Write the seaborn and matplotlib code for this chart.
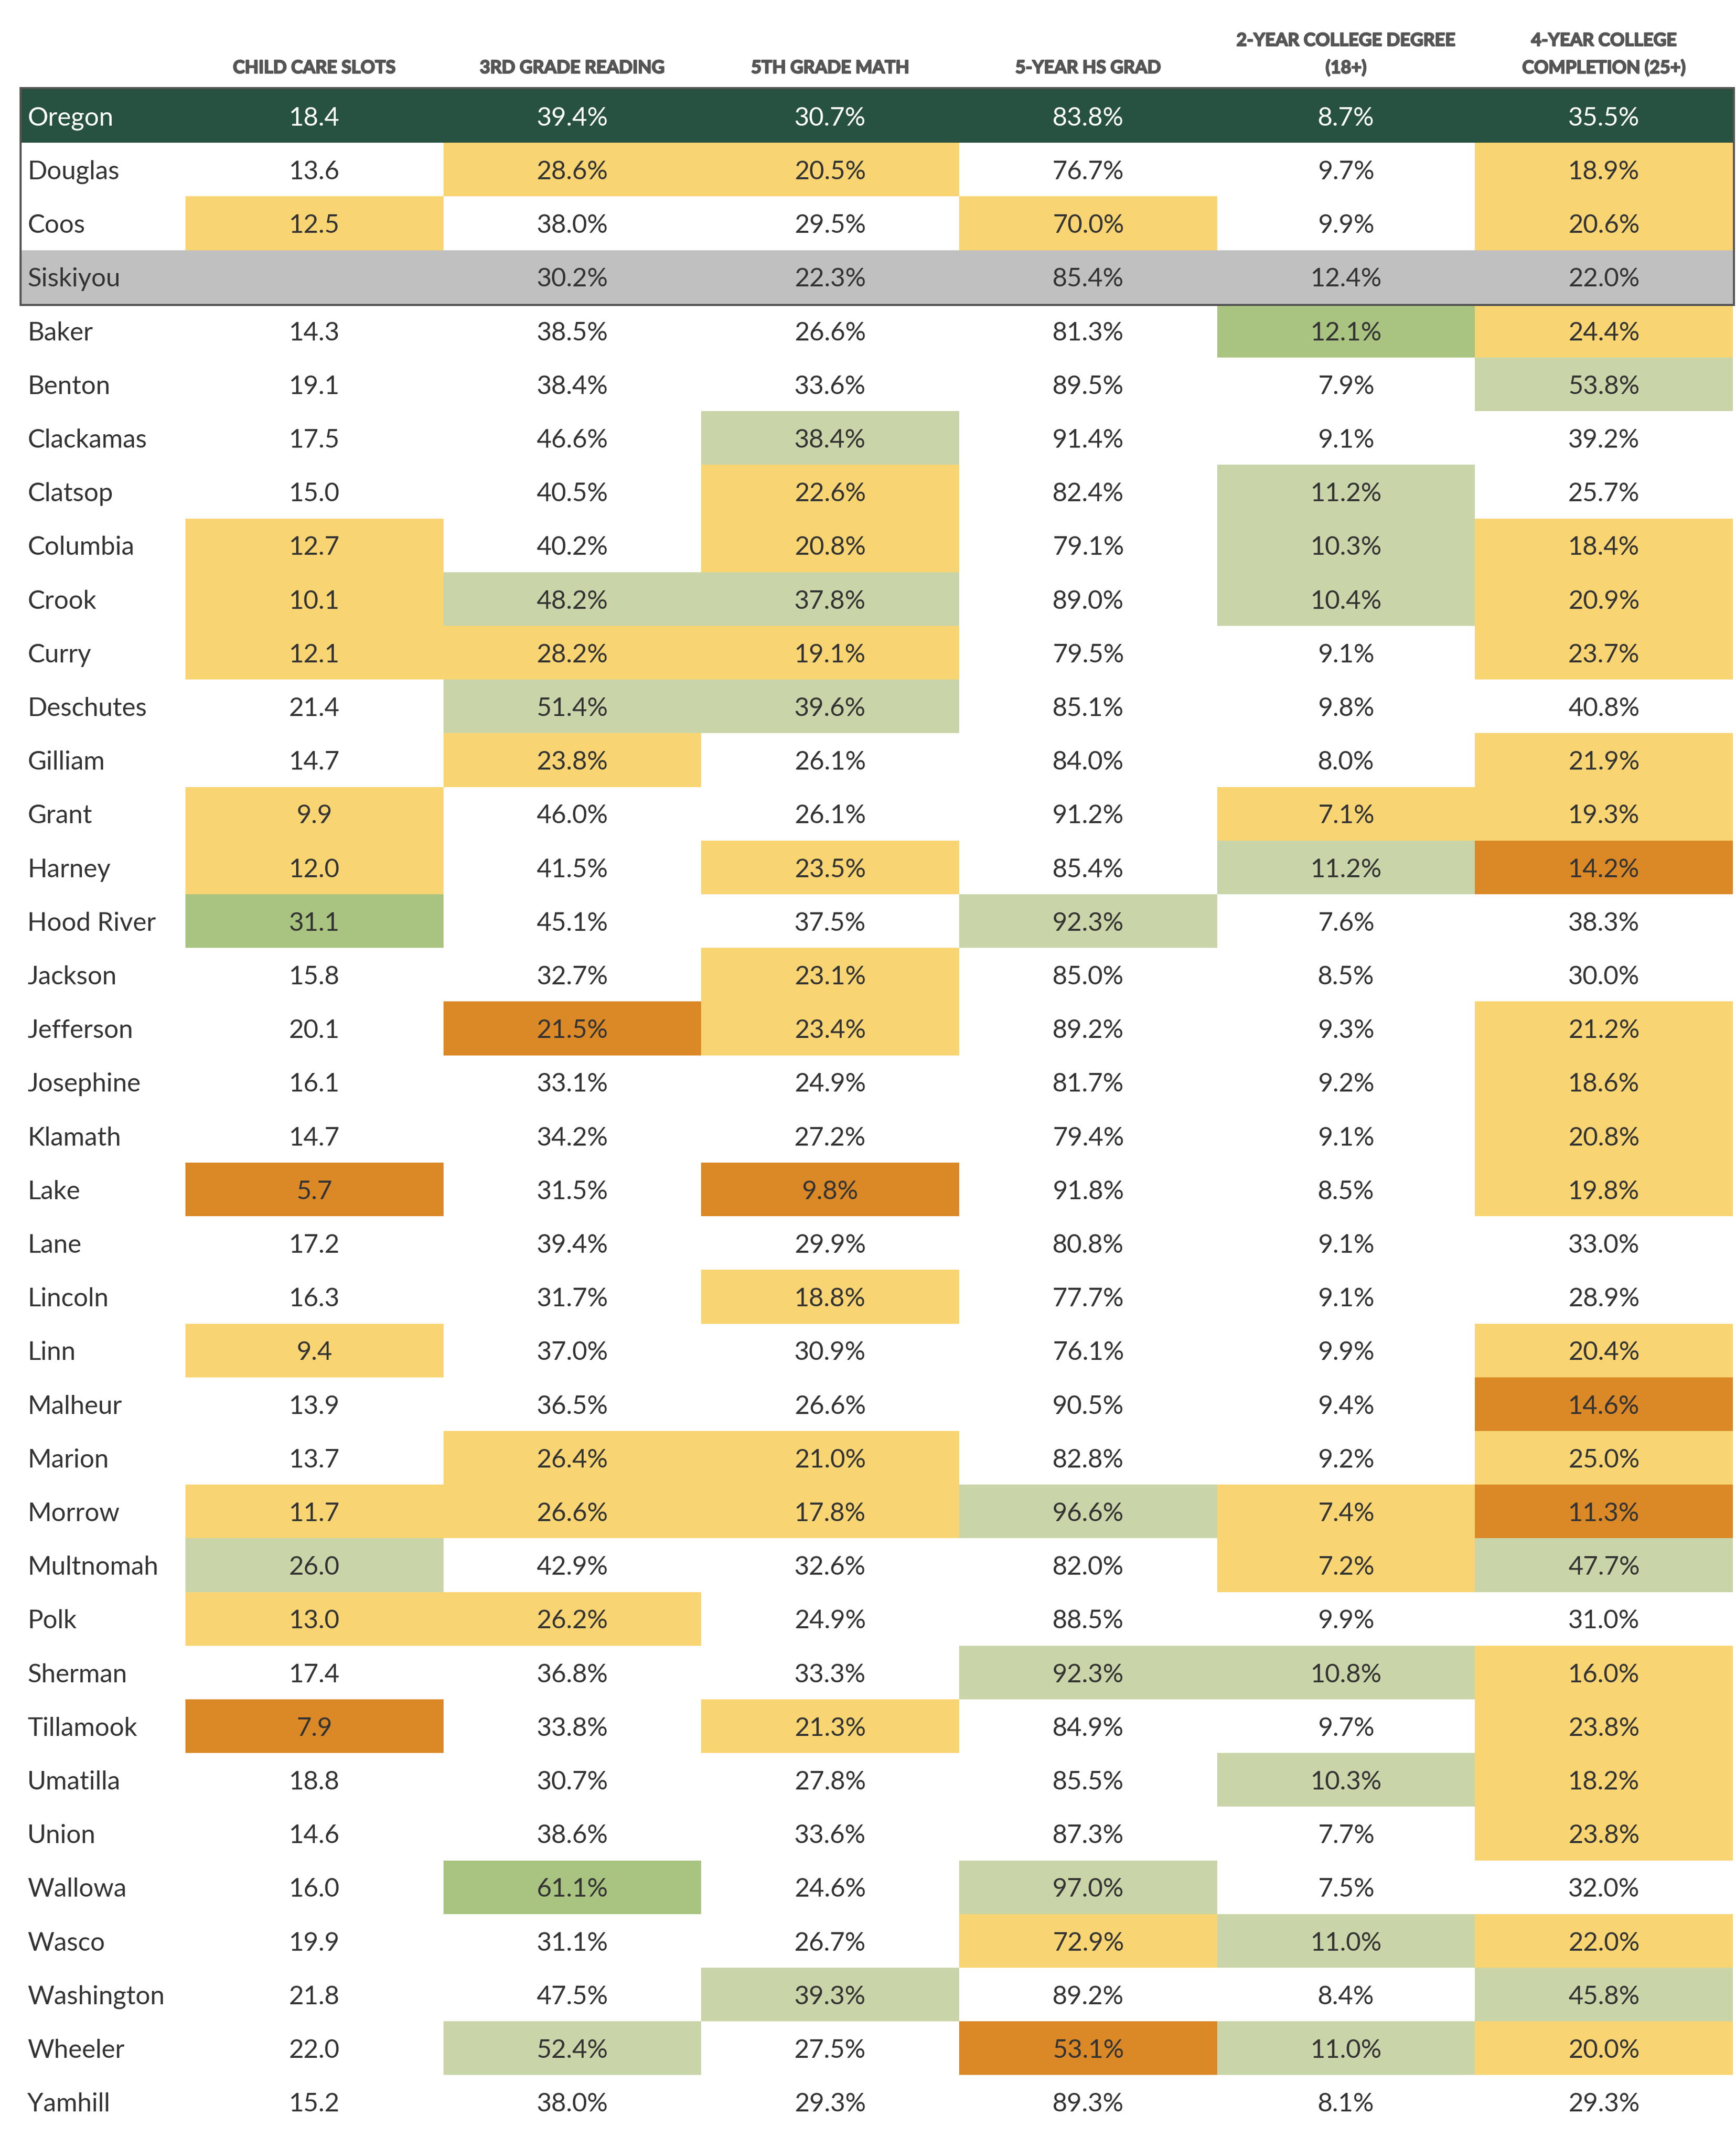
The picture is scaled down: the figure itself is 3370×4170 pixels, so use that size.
import matplotlib
matplotlib.use('Agg')
import matplotlib.pyplot as plt
import matplotlib.patheffects as pe
from matplotlib.colors import ListedColormap
from matplotlib.patches import Rectangle
import seaborn as sns
import numpy as np
import pandas as pd

# ---- data ----
counties = ["Oregon", "Douglas", "Coos", "Siskiyou", "Baker", "Benton", "Clackamas",
            "Clatsop", "Columbia", "Crook", "Curry", "Deschutes", "Gilliam", "Grant",
            "Harney", "Hood River", "Jackson", "Jefferson", "Josephine", "Klamath",
            "Lake", "Lane", "Lincoln", "Linn", "Malheur", "Marion", "Morrow",
            "Multnomah", "Polk", "Sherman", "Tillamook", "Umatilla", "Union",
            "Wallowa", "Wasco", "Washington", "Wheeler", "Yamhill"]

# row groups: state total, neighbouring county (grey), regular county
row_group = ["state", "county", "county", "neighbor"] + ["county"] * 34

headers = ["CHILD CARE SLOTS", "3RD GRADE READING", "5TH GRADE MATH",
           "5-YEAR HS GRAD", "2-YEAR COLLEGE DEGREE\n(18+)",
           "4-YEAR COLLEGE\nCOMPLETION (25+)"]

child_care = [18.4, 13.6, 12.5, None, 14.3, 19.1, 17.5, 15.0, 12.7, 10.1, 12.1, 21.4,
              14.7, 9.9, 12.0, 31.1, 15.8, 20.1, 16.1, 14.7, 5.7, 17.2, 16.3, 9.4,
              13.9, 13.7, 11.7, 26.0, 13.0, 17.4, 7.9, 18.8, 14.6, 16.0, 19.9, 21.8,
              22.0, 15.2]
reading3 = [39.4, 28.6, 38.0, 30.2, 38.5, 38.4, 46.6, 40.5, 40.2, 48.2, 28.2, 51.4,
            23.8, 46.0, 41.5, 45.1, 32.7, 21.5, 33.1, 34.2, 31.5, 39.4, 31.7, 37.0,
            36.5, 26.4, 26.6, 42.9, 26.2, 36.8, 33.8, 30.7, 38.6, 61.1, 31.1, 47.5,
            52.4, 38.0]
math5 = [30.7, 20.5, 29.5, 22.3, 26.6, 33.6, 38.4, 22.6, 20.8, 37.8, 19.1, 39.6,
         26.1, 26.1, 23.5, 37.5, 23.1, 23.4, 24.9, 27.2, 9.8, 29.9, 18.8, 30.9,
         26.6, 21.0, 17.8, 32.6, 24.9, 33.3, 21.3, 27.8, 33.6, 24.6, 26.7, 39.3,
         27.5, 29.3]
hs_grad = [83.8, 76.7, 70.0, 85.4, 81.3, 89.5, 91.4, 82.4, 79.1, 89.0, 79.5, 85.1,
           84.0, 91.2, 85.4, 92.3, 85.0, 89.2, 81.7, 79.4, 91.8, 80.8, 77.7, 76.1,
           90.5, 82.8, 96.6, 82.0, 88.5, 92.3, 84.9, 85.5, 87.3, 97.0, 72.9, 89.2,
           53.1, 89.3]
college2 = [8.7, 9.7, 9.9, 12.4, 12.1, 7.9, 9.1, 11.2, 10.3, 10.4, 9.1, 9.8, 8.0,
            7.1, 11.2, 7.6, 8.5, 9.3, 9.2, 9.1, 8.5, 9.1, 9.1, 9.9, 9.4, 9.2, 7.4,
            7.2, 9.9, 10.8, 9.7, 10.3, 7.7, 7.5, 11.0, 8.4, 11.0, 8.1]
college4 = [35.5, 18.9, 20.6, 22.0, 24.4, 53.8, 39.2, 25.7, 18.4, 20.9, 23.7, 40.8,
            21.9, 19.3, 14.2, 38.3, 30.0, 21.2, 18.6, 20.8, 19.8, 33.0, 28.9, 20.4,
            14.6, 25.0, 11.3, 47.7, 31.0, 16.0, 23.8, 18.2, 23.8, 32.0, 22.0, 45.8,
            20.0, 29.3]

# cell rating vs. state: w = similar, y = below, o = far below, l = above, g = far above
child_care_rating = list("-wy-wwwwyyywwyygwwwwowwywwylywowwwwwww")
reading3_rating   = list("-yw-wwwwwlylywwwwowwwwwwwyywywwwwgwwlw")
math5_rating      = list("-yw-wwlyylylwwywyywwowywwyywwwywwwwlww")
hs_grad_rating    = list("-wy-wwwwwwwwwwwlwwwwwwwwwwlwwlwwwlywow")
college2_rating   = list("-ww-gwwlllwwwylwwwwwwwwwwwyywlwlwwlwlw")
college4_rating   = list("-yy-ylwwyyywyyowwyyyywwyoyolwyyyywylyw")

# ---- build tables ----
series = [child_care, reading3, math5, hs_grad, college2, college4]
ratings = [child_care_rating, reading3_rating, math5_rating, hs_grad_rating,
           college2_rating, college4_rating]
code_of = {"w": 0, "y": 1, "o": 2, "l": 3, "g": 4}
group_code = {"state": 5, "neighbor": 6}

codes = np.zeros((len(counties), len(series)))
labels = np.empty((len(counties), len(series)), dtype=object)
for j, (vals, rates) in enumerate(zip(series, ratings)):
    for i, (v, r) in enumerate(zip(vals, rates)):
        g = row_group[i]
        codes[i, j] = group_code.get(g, code_of.get(r, 0))
        if v is None:
            labels[i, j] = ""
        elif j == 0:
            labels[i, j] = f"{v:.1f}"
        else:
            labels[i, j] = f"{v:.1f}%"

codes_df = pd.DataFrame(codes, index=counties, columns=headers)
name_codes = pd.DataFrame([[group_code.get(g, 0)] for g in row_group], index=counties)

palette = ["#ffffff", "#f9d472", "#db8826", "#c9d5a8", "#a9c380", "#275141", "#c0c0c0"]
cmap = ListedColormap(palette)

text_dark = "#333333"
plt.rcParams['font.family'] = ['Lato', 'DejaVu Sans']

# ---- layout (pixels) ----
W, H = 3370, 4170
top = 173
row_h = 104.2
bottom = top + row_h * len(counties)
x_name0, x_data0, x_data1 = 42, 360, 3364
text_dy = 0.045  # nudge body text down so digits sit centred in the row

fig = plt.figure(figsize=(W / 100, H / 100), dpi=100)
fig.patch.set_facecolor("white")

def px_axes(x0, x1):
    return fig.add_axes([x0 / W, 1 - bottom / H, (x1 - x0) / W, (bottom - top) / H])

ax_names = px_axes(x_name0, x_data0)
ax = px_axes(x_data0, x_data1)

sns.heatmap(name_codes, ax=ax_names, cmap=cmap, vmin=-0.5, vmax=6.5, cbar=False,
            xticklabels=False, yticklabels=False)
for i, name in enumerate(counties):
    ax_names.text(0.035, i + 0.5 + text_dy, name, ha="left", va="center", fontsize=36,
                  color="white" if row_group[i] == "state" else text_dark)

sns.heatmap(codes_df, ax=ax, cmap=cmap, vmin=-0.5, vmax=6.5, cbar=False,
            annot=labels, fmt="", xticklabels=False, yticklabels=False,
            annot_kws=dict(fontsize=36, color=text_dark))
for t in ax.texts:
    x, y = t.get_position()
    if row_group[int(y)] == "state":
        t.set_color("white")
    t.set_position((x, y + text_dy))

for a in (ax, ax_names):
    a.set_xlabel("")
    a.set_ylabel("")
    a.tick_params(length=0)

# column headers (heavy weight: bold + thin stroke)
head_color = "#555555"
for j, head in enumerate(headers):
    lines = head.split("\n")
    ys = [-0.393] if len(lines) == 1 else [-0.902, -0.393]
    for line, y in zip(lines, ys):
        ax.text(j + 0.5, y, line, ha="center", va="center", fontsize=25,
                fontweight="bold", color=head_color, clip_on=False,
                path_effects=[pe.withStroke(linewidth=1.6, foreground=head_color)])

# box around the state / comparison rows
box_bottom = top + row_h * 4 + 2
fig.patches.append(Rectangle((40 / W, 1 - box_bottom / H), (3366 - 40) / W,
                             (box_bottom - 171.5) / H, transform=fig.transFigure,
                             fill=False, edgecolor="#555555", linewidth=2.9))

fig.savefig("out.png", dpi=100, facecolor="white")
plt.close(fig)
